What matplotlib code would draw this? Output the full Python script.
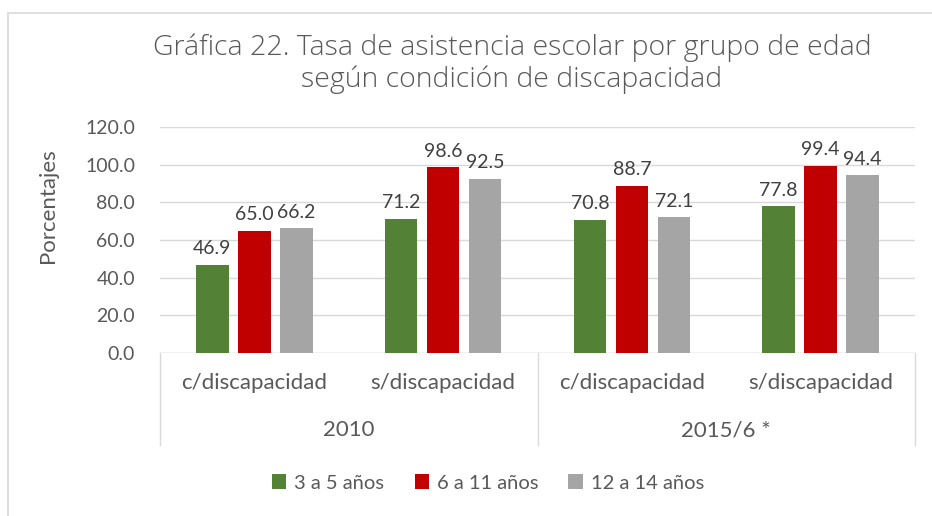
import matplotlib
matplotlib.use("Agg")
import matplotlib.pyplot as plt
import numpy as np
from matplotlib.patches import Rectangle, Patch

groups = ["2010", "2015/6 *"]
categories = ["c/discapacidad", "s/discapacidad", "c/discapacidad", "s/discapacidad"]
series_names = ["3 a 5 años", "6 a 11 años", "12 a 14 años"]
vals_3_5 = [46.9, 71.2, 70.8, 77.8]
vals_6_11 = [65.0, 98.6, 88.7, 99.4]
vals_12_14 = [66.2, 92.5, 72.1, 94.4]
colors = ["#538135", "#C00000", "#A5A5A5"]
yticks = [0, 20, 40, 60, 80, 100, 120]

txt = "#595959"
plt.rcParams['font.family'] = ['Lato', 'DejaVu Sans']

fig = plt.figure(figsize=(9.32, 5.16), dpi=100)
fig.patches.append(Rectangle((8/932, -0.01), 1.1, 1 - 13/516 + 0.01, transform=fig.transFigure,
                             fill=False, edgecolor="#D9D9D9", linewidth=1.2))
ax = fig.add_axes([160/932, 1 - 353/516, 755/932, 226/516])

x = np.arange(len(categories))
bw = 0.173
sp = 0.2225
for i, (vals, c, name) in enumerate(zip([vals_3_5, vals_6_11, vals_12_14], colors, series_names)):
    xs = x + (i - 1) * sp
    ax.bar(xs, vals, width=bw, color=c, label=name, zorder=3)
    for xi, v in zip(xs, vals):
        ax.text(xi, v + 4, f"{v:.1f}", ha="center", va="bottom", fontsize=14, color="#404040")

ax.set_ylim(0, 120)
ax.set_xlim(-0.5, 3.5)
ax.set_yticks(yticks)
ax.set_yticklabels([f"{t:.1f}" for t in yticks], fontsize=14, color=txt)
ax.yaxis.grid(True, color="#D9D9D9", linewidth=1, zorder=0)
ax.tick_params(axis="y", length=0, pad=18)
ax.set_xticks([])
for s in ["top", "right", "left", "bottom"]:
    ax.spines[s].set_visible(False)
ax.axhline(0, color="#D9D9D9", linewidth=1, zorder=2)

tr = ax.get_xaxis_transform()
for xi, cat in zip(x, categories):
    ax.text(xi, -0.133, cat, transform=tr, ha="center", va="center", fontsize=16, color=txt)
for gi, g in enumerate(groups):
    ax.text(0.5 + 2 * gi, -0.341, g, transform=tr, ha="center", va="center", fontsize=16, color=txt)
for xv in [-0.5, 1.5, 3.5]:
    ax.plot([xv, xv], [0, -0.407], transform=tr, color="#D9D9D9", linewidth=1, clip_on=False)

fig.text(48/932, 1 - 206/516, "Porcentajes", rotation=90, ha="center", va="center", fontsize=16, color=txt)

fig.text(512/932, 1 - 64/516, "Gráfica 22. Tasa de asistencia escolar por grupo de edad\nsegún condición de discapacidad",
         ha="center", va="center", fontsize=20.5, color="#595959", linespacing=1.15,
         family=['Open Sans', 'DejaVu Sans'], fontweight="light")

handles = [Patch(facecolor=c, label=n) for c, n in zip(colors, series_names)]
fig.legend(handles=handles, loc="center", bbox_to_anchor=(488/932, 1 - 483/516), ncol=3, frameon=False,
           fontsize=14.5, labelcolor=txt, handlelength=0.7, handleheight=0.7, handletextpad=0.4, columnspacing=1.5)

fig.savefig("out.png", dpi=100)
